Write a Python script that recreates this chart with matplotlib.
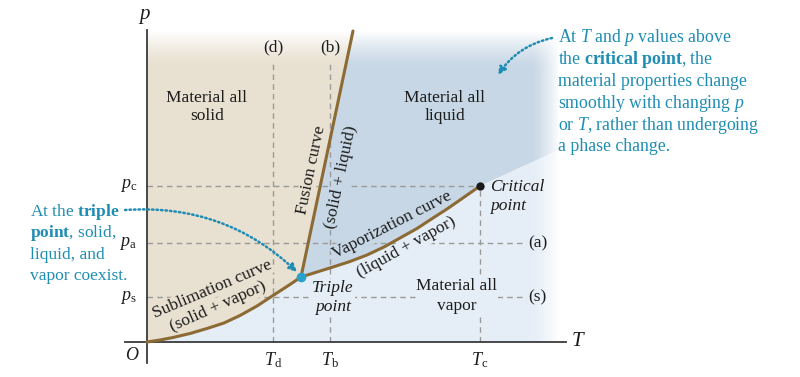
import numpy as np
import matplotlib
matplotlib.use('Agg')
import matplotlib.pyplot as plt

plt.rcParams['font.family'] = ['Liberation Serif', 'DejaVu Serif']
plt.rcParams['mathtext.fontset'] = 'custom'
plt.rcParams['mathtext.rm'] = 'Liberation Serif'
plt.rcParams['mathtext.it'] = 'Liberation Serif:italic'
plt.rcParams['mathtext.bf'] = 'Liberation Serif:bold'

# phase boundaries (arbitrary T, p units)
subl_T = [0, 0.13, 0.26, 0.43, 0.60, 0.77, 0.93, 1.10, 1.26, 1.43, 1.54]
subl_p = [0, 0.02, 0.045, 0.085, 0.135, 0.19, 0.265, 0.36, 0.465, 0.575, 0.65]
vap_T = [1.54, 1.70, 1.86, 2.03, 2.20, 2.37, 2.53, 2.70, 2.86, 3.00, 3.13, 3.23, 3.33]
vap_p = [0.65, 0.70, 0.75, 0.805, 0.87, 0.95, 1.04, 1.135, 1.24, 1.33, 1.42, 1.49, 1.56]
fus_T = [1.54, 2.06]
fus_p = [0.65, 3.11]

triple = (1.54, 0.65)
critical = (3.33, 1.56)

T_ticks = [1.26, 1.83, 3.33]
T_labels = [r'$T_\mathrm{d}$', r'$T_\mathrm{b}$', r'$T_\mathrm{c}$']
T_tags = ['(d)', '(b)', '']
p_ticks = [1.56, 0.99, 0.45]
p_labels = [r'$p_\mathrm{c}$', r'$p_\mathrm{a}$', r'$p_\mathrm{s}$']
p_tags = ['', '(a)', '(s)']

c_solid = '#e8e0d0'
c_liquid = '#c7d7e5'
c_vapor = '#e5eef6'
c_curve = '#8c6a34'
c_dash = '#9a9a9a'
c_teal = '#1f8db3'
c_text = '#1c1c1c'

top = 3.10
right = 4.12

fig = plt.figure(figsize=(8, 3.77), dpi=100)
ax = fig.add_axes([0, 0, 1, 1])
ax.axis('off')

# regions
ax.fill([0] + subl_T + [fus_T[-1], 0], [0] + subl_p + [top, top],
        color=c_solid, lw=0, zorder=0)
ax.fill(vap_T + [right, right, fus_T[-1]], vap_p + [1.92, top, top],
        color=c_liquid, lw=0, zorder=0)
ax.fill([0] + subl_T + vap_T[1:] + [right, right],
        [0] + subl_p + vap_p[1:] + [1.92, 0], color=c_vapor, lw=0, zorder=0)

# soft white fades at top and right edge
g = np.ones((60, 1, 4))
g[:, 0, 3] = np.linspace(0, 1, 60) ** 1.5
ax.imshow(g, extent=[0, right, 2.72, top + 0.01], origin='lower',
          aspect='auto', zorder=0.5)
h = np.ones((1, 60, 4))
h[0, :, 3] = np.linspace(0, 1, 60) ** 1.3
ax.imshow(h, extent=[3.84, right + 0.01, 0, top + 0.01], origin='lower',
          aspect='auto', zorder=0.5)

# dashed guide lines
dash = dict(color=c_dash, lw=1.0, ls=(0, (4, 3)), zorder=1)
T_ends = [2.82, 2.82, p_ticks[0]]
for t, e in zip(T_ticks, T_ends):
    ax.plot([t, t], [0, e], **dash)
p_ends = [T_ticks[2], 3.78, 3.78]
for p, e in zip(p_ticks, p_ends):
    ax.plot([0, e], [p, p], **dash)

# axes
ax.plot([-0.22, 4.19], [0, 0], color='#3a3a3a', lw=1.3, zorder=3)
ax.plot([0, 0], [-0.21, 3.12], color='#3a3a3a', lw=1.3, zorder=3)
ax.text(4.24, 0, '$T$', fontsize=15, ha='left', va='center', color=c_text)
ax.text(-0.02, 3.25, '$p$', fontsize=15, ha='center', va='center', color=c_text)
ax.text(-0.15, -0.13, '$O$', fontsize=13, ha='center', va='center', color=c_text)

for t, lab, tag in zip(T_ticks, T_labels, T_tags):
    ax.text(t, -0.18, lab, fontsize=13, ha='center', va='center', color=c_text)
    if tag:
        ax.text(t, 2.95, tag, fontsize=12.5, ha='center', va='center', color=c_text)
for p, lab, tag in zip(p_ticks, p_labels, p_tags):
    ax.text(-0.1, p, lab, fontsize=13, ha='right', va='center', color=c_text)
    if tag:
        ax.text(3.81, p, tag, fontsize=12.5, ha='left', va='center', color=c_text)

# phase curves and points
for xs, ys in [(subl_T, subl_p), (vap_T, vap_p), (fus_T, fus_p)]:
    ax.plot(xs, ys, color=c_curve, lw=2.2, zorder=3, solid_capstyle='round',
            solid_joinstyle='round')
ax.plot(*triple, 'o', color='#2aa0cc', ms=7, mec='none', zorder=4)
ax.plot(*critical, 'o', color='#1a1a1a', ms=6, mec='none', zorder=4)

def lbl(x, y, s, rot=0, bg=None, **kw):
    bbox = dict(fc=bg, ec='none', pad=0.5) if bg else None
    ax.text(x, y, s, fontsize=12.5, ha='center', va='center', color=c_text,
            rotation=rot, rotation_mode='anchor', bbox=bbox, zorder=2, **kw)

lbl(0.60, 2.35, 'Material all\nsolid', linespacing=1.25)
lbl(2.98, 2.35, 'Material all\nliquid', linespacing=1.25)
lbl(3.10, 0.46, 'Material all\nvapor', bg=c_vapor, linespacing=1.25)
lbl(1.86, 0.445, 'Triple\npoint', bg=c_vapor, style='italic', linespacing=1.25)
ax.text(3.43, 1.45, 'Critical\npoint', fontsize=12.5, style='italic', ha='left',
        va='center', color=c_text, linespacing=1.25)

lbl(1.64, 1.72, 'Fusion curve', rot=78, bg=c_solid)
lbl(1.945, 1.65, '(solid + liquid)', rot=78, bg=c_liquid)
lbl(0.655, 0.53, 'Sublimation curve', rot=23, bg=c_solid)
lbl(0.71, 0.355, '(solid + vapor)', rot=24, bg=c_solid)
lbl(2.447, 1.17, 'Vaporization curve', rot=27, bg=c_liquid)
lbl(2.597, 0.945, '(liquid + vapor)', rot=29, bg=c_vapor)

# teal call-outs
left_lines = [r'At the $\mathbf{triple}$', r'$\mathbf{point}$, solid,',
              'liquid, and', 'vapor coexist.']
for i, s in enumerate(left_lines):
    ax.text(-1.17, 1.30 - 0.213 * i, s, fontsize=12.5, ha='left', va='center',
            color=c_teal)
right_lines = [r'At $T$ and $p$ values above', r'the $\mathbf{critical\ point}$, the',
               'material properties change', r'smoothly with changing $p$',
               r'or $T$, rather than undergoing', 'a phase change.']
for i, s in enumerate(right_lines):
    ax.text(4.11, 3.04 - 0.218 * i, s, fontsize=12.8, ha='left', va='center',
            color=c_teal)

arrow = dict(arrowstyle='-|>,head_length=0.45,head_width=0.22', color=c_teal,
             lw=1.8, linestyle=(0, (0.6, 1.2)), shrinkA=0, shrinkB=0)
ax.annotate('', xy=(1.50, 0.70), xytext=(-0.22, 1.32),
            arrowprops=dict(connectionstyle='arc3,rad=-0.22', **arrow))
ax.annotate('', xy=(3.51, 2.67), xytext=(4.05, 3.04),
            arrowprops=dict(connectionstyle='arc3,rad=0.2', **arrow))

ax.set_xlim(-1.47, 6.53)
ax.set_ylim(-0.35, 3.42)
fig.savefig('out.png', dpi=100)
